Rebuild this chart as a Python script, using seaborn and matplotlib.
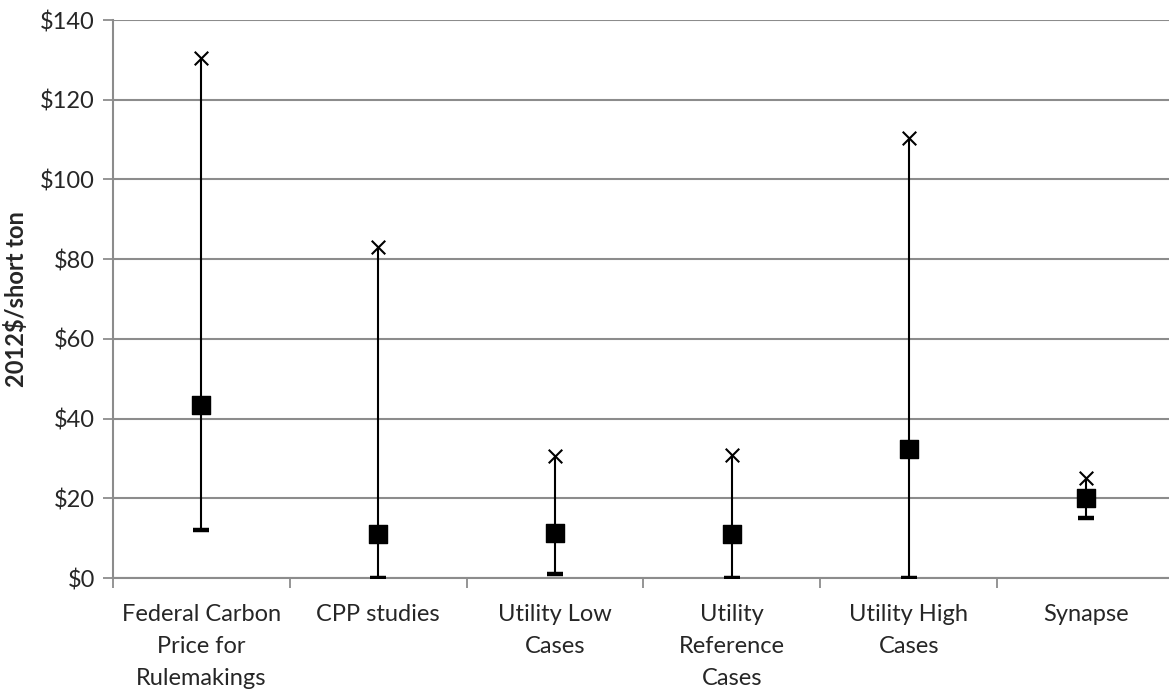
import numpy as np
import pandas as pd
import matplotlib
matplotlib.use("Agg")
import matplotlib.pyplot as plt
import seaborn as sns
from matplotlib.ticker import FuncFormatter, MultipleLocator, FixedLocator

# Data
categories = ["Federal Carbon\nPrice for\nRulemakings", "CPP studies", "Utility Low\nCases",
              "Utility\nReference\nCases", "Utility High\nCases", "Synapse"]
high_vals = [130.5, 83.0, 30.7, 30.8, 110.5, 25.0]
mid_vals = [43.4, 11.0, 11.2, 11.1, 32.4, 20.0]
low_vals = [12.0, 0.0, 1.0, 0.0, 0.0, 15.0]

sns.set_style("white")
plt.rcParams['font.family'] = ['Lato', 'DejaVu Sans']

df = pd.DataFrame({"pos": np.arange(len(categories)), "high": high_vals,
                   "mid": mid_vals, "low": low_vals})

fig = plt.figure(figsize=(11.69, 6.96), dpi=100)
ax = fig.add_axes([113 / 1169, 118 / 696, (1174 - 113) / 1169, 558 / 696])

# range lines
ax.vlines(df["pos"], df["low"], df["high"], color="black", lw=1.5, zorder=3)

sns.scatterplot(data=df, x="pos", y="low", marker="_", s=120, color="black",
                linewidth=3.2, ax=ax, zorder=4)
sns.scatterplot(data=df, x="pos", y="high", marker="x", s=95, color="black",
                linewidth=1.5, ax=ax, zorder=4)
sns.scatterplot(data=df, x="pos", y="mid", marker="s", s=160, color="black",
                edgecolor="black", ax=ax, zorder=5)

ax.set_xlim(-0.5, len(categories) - 0.5)
ax.set_ylim(0, 140)
ax.yaxis.set_major_locator(MultipleLocator(20))
ax.yaxis.set_major_formatter(FuncFormatter(lambda v, p: f"${v:.0f}"))
ax.grid(axis="y", color="#8c8c8c", lw=1.5)
ax.set_axisbelow(True)

ax.set_xticks(df["pos"])
ax.set_xticklabels(categories, fontsize=17, linespacing=1.65)
ax.xaxis.set_minor_locator(FixedLocator(np.arange(-0.5, len(categories), 1.0)))
ax.tick_params(axis="x", which="major", bottom=True, length=0, pad=19)
ax.tick_params(axis="x", which="minor", bottom=True, length=7, width=1.3,
               color="#8c8c8c", direction="out")
ax.tick_params(axis="y", left=True, length=7, width=1.3, color="#8c8c8c", direction="out",
               labelsize=17, pad=6)

for side in ["top", "right"]:
    ax.spines[side].set_visible(False)
for side in ["left", "bottom"]:
    ax.spines[side].set_color("#8c8c8c")
    ax.spines[side].set_linewidth(1.5)

ax.set_xlabel("")
ax.set_ylabel("2012$/short ton", fontsize=17, fontweight="bold", labelpad=9)

fig.savefig("out.png", dpi=100)
